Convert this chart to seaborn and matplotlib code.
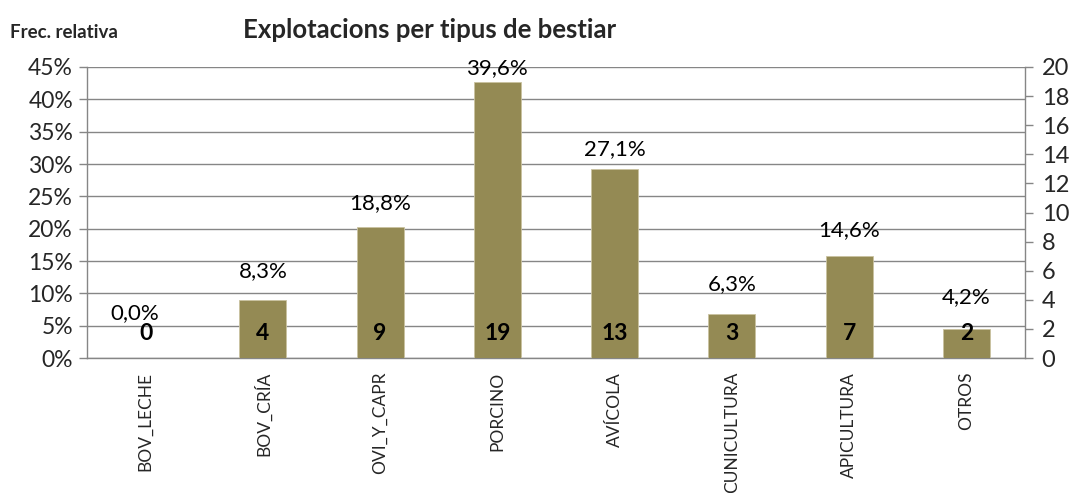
import matplotlib
matplotlib.use("Agg")
import matplotlib.pyplot as plt
import seaborn as sns
import numpy as np

# DATA
categories = ["BOV_LECHE", "BOV_CRÍA", "OVI_Y_CAPR", "PORCINO",
              "AVÍCOLA", "CUNICULTURA", "APICULTURA", "OTROS"]
counts = [0, 4, 9, 19, 13, 3, 7, 2]
percents = [0.0, 8.3, 18.8, 39.6, 27.1, 6.3, 14.6, 4.2]
left_ticks = [0, 5, 10, 15, 20, 25, 30, 35, 40, 45]
right_ticks = [0, 2, 4, 6, 8, 10, 12, 14, 16, 18, 20]

sns.set_style("white")
plt.rcParams["font.family"] = ["Lato", "DejaVu Sans"]

bar_color = "#948A54"
line_grey = "#868686"

fig = plt.figure(figsize=(10.79, 4.93), dpi=100)
ax = fig.add_axes([0.0806, 0.2738, 0.8693, 0.5903])
ax2 = ax.twinx()

# bars on the right (count) axis
sns.barplot(x=categories, y=counts, ax=ax2, color=bar_color,
            width=0.4, saturation=1, edgecolor="#C9C2A0", linewidth=0.6)

ax2.set_ylim(0, 20)
ax2.set_yticks(right_ticks)
ax2.set_yticklabels([str(t) for t in right_ticks], fontsize=17)
ax2.set_ylabel("")
ax2.set_xlabel("")

# left axis: relative frequency
ax.set_ylim(0, 45)
ax.set_yticks(left_ticks)
ax.set_yticklabels([f"{t}%" for t in left_ticks], fontsize=16.5)
ax.set_xlim(-0.5, len(categories) - 0.5)
ax.yaxis.grid(True, color=line_grey, linewidth=1)
ax.set_axisbelow(True)

# x ticks: labels at centres, tick marks at boundaries
ax.set_xticks(np.arange(len(categories)))
ax.set_xticklabels(categories, rotation=90, fontsize=12.5)
ax.set_xticks(np.arange(len(categories) + 1) - 0.5, minor=True)
ax.tick_params(axis="x", which="major", length=0, pad=10)
ax.tick_params(axis="x", which="minor", length=6, width=1,
               color=line_grey, direction="out")
ax.tick_params(axis="y", length=6, width=1, color=line_grey,
               direction="out", pad=4)
ax2.tick_params(axis="y", length=6, width=1, color=line_grey,
                direction="out", pad=6)
ax2.tick_params(axis="x", length=0)

for a in (ax, ax2):
    for s in a.spines.values():
        s.set_color(line_grey)
        s.set_linewidth(1)
ax.spines["top"].set_visible(False)
ax.spines["right"].set_visible(False)
ax2.spines["top"].set_visible(False)
ax2.spines["left"].set_visible(False)
ax2.spines["bottom"].set_visible(False)

# percentage labels
for i, p in enumerate(percents):
    txt = f"{p:.1f}".replace(".", ",") + "%"
    dx = -8 if p == 0 else 0
    dy = 32 if p == 0 else 24
    ax.annotate(txt, (i, p), xytext=(dx, dy), textcoords="offset points",
                ha="center", va="center", fontsize=16, color="black")

# count labels
for i, c in enumerate(counts):
    ax2.annotate(str(c), (i, 0), xytext=(0, 18), textcoords="offset points",
                 ha="center", va="center", fontsize=16.5, fontweight="bold",
                 color="black")

fig.text(0.3985, 0.94, "Explotacions per tipus de bestiar",
         ha="center", va="center", fontsize=18.5, fontweight="bold")
fig.text(0.009, 0.935, "Frec. relativa", ha="left", va="center",
         fontsize=13.5, fontweight="bold")

fig.savefig("out.png", dpi=100)
